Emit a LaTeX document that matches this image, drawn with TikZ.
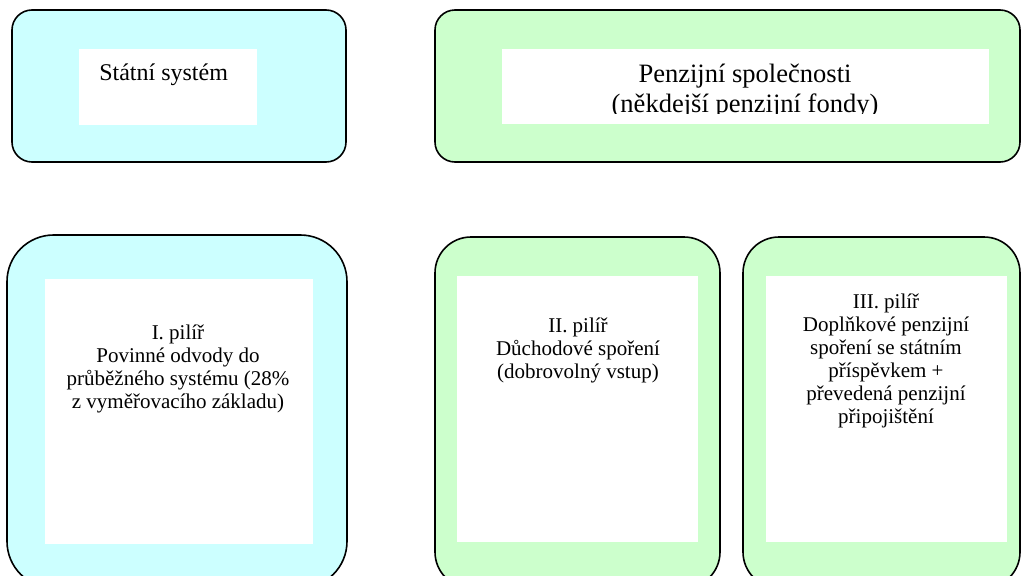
\documentclass[tikz,border=0pt]{standalone}
\usepackage{fontspec}
\setmainfont{Liberation Serif}
\definecolor{statefill}{HTML}{CCFFFF}
\definecolor{fundfill}{HTML}{CCFFCC}
\begin{document}
\begin{tikzpicture}[x=0.75pt,y=-0.75pt,
  outerbox/.style={draw=black,line width=1.2pt},
  innerbox/.style={fill=white},
  toptext/.style={inner sep=0pt,anchor=base,align=center,font=\fontsize{19.9}{22.5}\selectfont},
  pillartext/.style={inner sep=0pt,anchor=base,align=center,font=\fontsize{15.75}{17.25}\selectfont}]
\useasboundingbox (0,0) rectangle (1021,575);
\clip (0,0) rectangle (1021,575);

% upper row: providers
\path[outerbox,fill=statefill,rounded corners=15pt] (12,10) rectangle (346,162);
\path[innerbox] (79,49) rectangle (257,125);
\node[inner sep=0pt,anchor=base west,font=\fontsize{18}{21}\selectfont] (stat) at (99,80) {Státní systém};

\path[outerbox,fill=fundfill,rounded corners=15pt] (435,10) rectangle (1020,162);
\path[innerbox] (502,49) rectangle (989,124);
\begin{scope}
  \clip (502,49) rectangle (989,113);
  % multi-line nodes sit on the baseline of their last line
  \node[toptext] (spol) at (745,112) {Penzijní společnosti\\(někdejší penzijní fondy)};
\end{scope}

% lower row: the three pillars
\path[outerbox,fill=statefill,rounded corners=35pt] (7,235) rectangle (347,588);
\path[innerbox] (45,279) rectangle (313,544);
\node[pillartext] (p1) at (178,408) {I. pilíř\\Povinné odvody do\\průběžného systému (28\%\\z vyměřovacího základu)};

\path[outerbox,fill=fundfill,rounded corners=27pt] (435,237) rectangle (720,588);
\path[innerbox] (457,276) rectangle (698,542);
\node[pillartext] (p2) at (578,378) {II. pilíř\\Důchodové spoření\\(dobrovolný vstup)};

\path[outerbox,fill=fundfill,rounded corners=27pt] (743,237) rectangle (1020,588);
\path[innerbox] (766,276) rectangle (1007,542);
\node[pillartext] (p3) at (886,423) {III. pilíř\\Doplňkové penzijní\\spoření se státním\\příspěvkem +\\převedená penzijní\\připojištění};
\end{tikzpicture}
\end{document}
